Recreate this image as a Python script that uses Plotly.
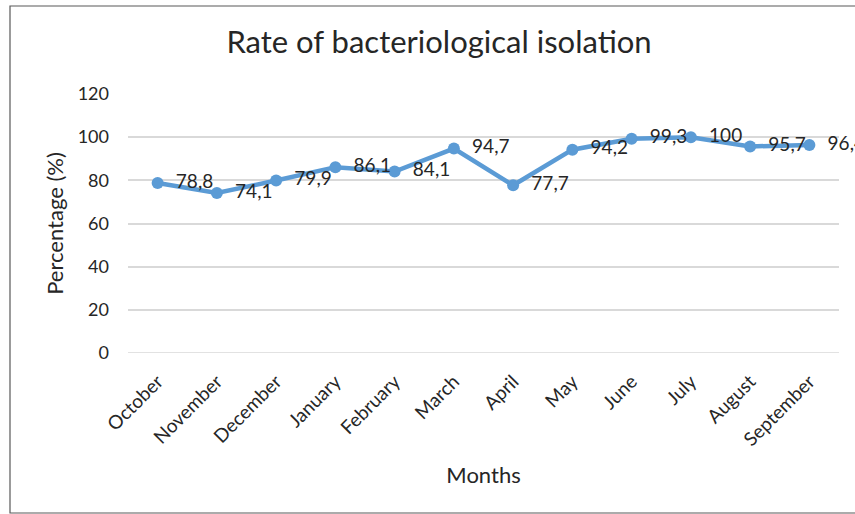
import plotly.graph_objects as go

months = ["October", "November", "December", "January", "February", "March",
          "April", "May", "June", "July", "August", "September"]
values = [78.8, 74.1, 79.9, 86.1, 84.1, 94.7, 77.7, 94.2, 99.3, 100, 95.7, 96.4]
labels = ["\u00a0\u00a0" + ("%g" % v).replace(".", ",") for v in values]
y_ticks = [0, 20, 40, 60, 80, 100, 120]

FONT = "Lato"
L, R, T, B = 128, 16, 94, 161
W, H = 855, 514
pw, ph = W - L - R, H - T - B

fig = go.Figure()
fig.add_trace(go.Scatter(
    x=months, y=values, mode="lines+markers+text",
    text=labels, textposition="middle right",
    textfont=dict(family=FONT, size=19, color="#262626"),
    line=dict(color="#5B9BD5", width=4.5),
    marker=dict(color="#5B9BD5", size=12),
    cliponaxis=False, showlegend=False,
))

fig.update_layout(
    width=W, height=H,
    margin=dict(l=L, r=R, t=T, b=B, autoexpand=False),
    paper_bgcolor="white", plot_bgcolor="white",
    font=dict(family=FONT, color="#262626"),
    title=dict(text="Rate of bacteriological isolation", x=439 / W, xanchor="center",
               y=1 - 42 / H, yanchor="middle",
               font=dict(family=FONT, size=31, color="#262626")),
    xaxis=dict(
        type="category", tickangle=-45, showgrid=False, showline=False,
        ticks="outside", ticklen=9, tickcolor="rgba(0,0,0,0)",
        automargin=False,
        tickfont=dict(family=FONT, size=19, color="#262626"),
        title=dict(text="Months", font=dict(family=FONT, size=22, color="#262626"), standoff=18),
        range=[-0.5, 11.5],
    ),
    yaxis=dict(
        range=[0, 120], tickvals=y_ticks, showgrid=True, gridcolor="#D9D9D9", gridwidth=1.5,
        zeroline=False, showline=False, ticks="", ticklabelstandoff=18, automargin=False,
        tickfont=dict(family=FONT, size=18, color="#262626"),
        title=dict(text="Percentage (%)", font=dict(family=FONT, size=22, color="#262626"), standoff=7),
    ),
    shapes=[dict(type="rect", xref="paper", yref="paper",
                 x0=(10 - L) / pw, x1=(W + 20 - L) / pw,
                 y0=(H - B - 513) / ph, y1=(H - B - 6) / ph,
                 line=dict(color="#595959", width=1.2), fillcolor="rgba(0,0,0,0)", layer="below")],
)
fig.add_hline(y=0, line=dict(color="#D9D9D9", width=1.5), layer="below")

fig.write_html("out.html", config={"displayModeBar": False},
               post_script="document.body.style.margin='0';document.body.style.overflow='hidden';")
